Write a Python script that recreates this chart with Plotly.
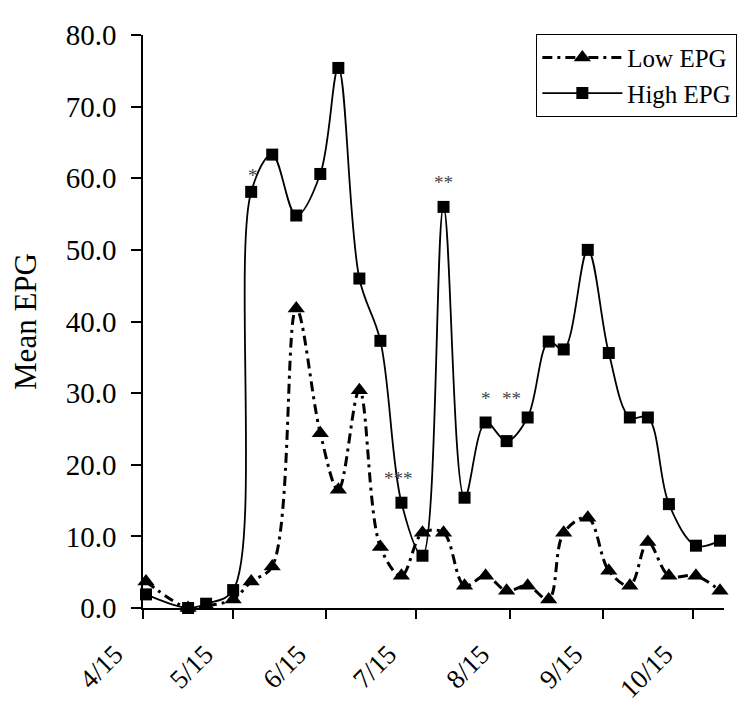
import plotly.graph_objects as go

dates = ["2008-04-16", "2008-04-30", "2008-05-06", "2008-05-15", "2008-05-21",
         "2008-05-28", "2008-06-05", "2008-06-13", "2008-06-19", "2008-06-26",
         "2008-07-03", "2008-07-10", "2008-07-17", "2008-07-24", "2008-07-31",
         "2008-08-07", "2008-08-14", "2008-08-21", "2008-08-28", "2008-09-02",
         "2008-09-10", "2008-09-17", "2008-09-24", "2008-09-30", "2008-10-07",
         "2008-10-16", "2008-10-24"]

low_epg = [3.7, 0.0, 0.3, 1.2, 3.7, 5.8, 41.8, 24.4, 16.5, 30.4,
           8.5, 4.5, 10.5, 10.5, 3.1, 4.5, 2.4, 3.1, 1.2, 10.5,
           12.6, 5.2, 3.1, 9.2, 4.5, 4.5, 2.4]

high_epg = [1.9, 0.0, 0.6, 2.5, 58.1, 63.3, 54.8, 60.6, 75.4, 46.0,
            37.3, 14.7, 7.3, 56.0, 15.4, 25.9, 23.3, 26.6, 37.2, 36.1,
            50.0, 35.6, 26.6, 26.6, 14.5, 8.7, 9.4]

tick_dates = ["2008-04-15", "2008-05-15", "2008-06-15", "2008-07-15",
              "2008-08-15", "2008-09-15", "2008-10-15"]
tick_labels = ["4/15", "5/15", "6/15", "7/15", "8/15", "9/15", "10/15"]

sig_x = ["2008-05-21 12:00", "2008-07-09", "2008-07-24", "2008-08-07", "2008-08-15 18:00"]
sig_y = [60.4, 18.1, 59.4, 29.3, 29.3]
sig_text = ["*", "***", "**", "*", "**"]

FONT = "Liberation Serif"

fig = go.Figure()
fig.add_trace(go.Scatter(
    x=dates, y=low_epg, name="Low EPG", mode="lines+markers",
    line=dict(color="black", width=3, dash="10px,5px,3px,5px", shape="spline", smoothing=1),
    marker=dict(symbol="triangle-up", size=15, color="black"),
    cliponaxis=False,
))
fig.add_trace(go.Scatter(
    x=dates, y=high_epg, name="High EPG", mode="lines+markers",
    line=dict(color="black", width=1.8, shape="spline", smoothing=1),
    marker=dict(symbol="square", size=12, color="black"),
    cliponaxis=False,
))

for sx, sy, st in zip(sig_x, sig_y, sig_text):
    fig.add_annotation(x=sx, y=sy, text=st, showarrow=False,
                       font=dict(family=FONT, size=19, color="#444"),
                       xanchor="center", yanchor="middle")

# page body has an 8px margin, so the figure is sized to fit the remaining window
fig.update_layout(
    width=743, height=712,
    margin=dict(l=135, r=27, t=27, b=112),
    paper_bgcolor="white", plot_bgcolor="white",
    font=dict(family=FONT, color="black"),
    showlegend=True,
    legend=dict(x=0.677, y=1.002, xanchor="left", yanchor="top",
                bordercolor="black", borderwidth=1, bgcolor="white",
                font=dict(family=FONT, size=25, color="black"),
                itemwidth=80, tracegroupgap=0),
)
fig.update_xaxes(
    type="date", range=["2008-04-15", "2008-10-25 08:00"],
    tickvals=tick_dates, ticktext=tick_labels, tickangle=-45,
    tickfont=dict(family=FONT, size=27, color="black"),
    showline=True, linecolor="black", linewidth=1.5,
    ticks="outside", ticklen=9, tickwidth=1.5, tickcolor="black",
    showgrid=False, zeroline=False, ticklabelstandoff=9, ticklabelshift=-28,
    automargin=False,
)
fig.update_yaxes(
    range=[0, 80], dtick=10, tickformat=".1f",
    tickfont=dict(family=FONT, size=29, color="black"),
    showline=True, linecolor="black", linewidth=1.5,
    ticks="outside", ticklen=10, tickwidth=1.5, tickcolor="black",
    showgrid=False, zeroline=False, ticklabelstandoff=9, automargin=False,
    title=dict(text="Mean EPG", font=dict(family=FONT, size=31, color="black"), standoff=24),
)

fig.write_html("out.html")
